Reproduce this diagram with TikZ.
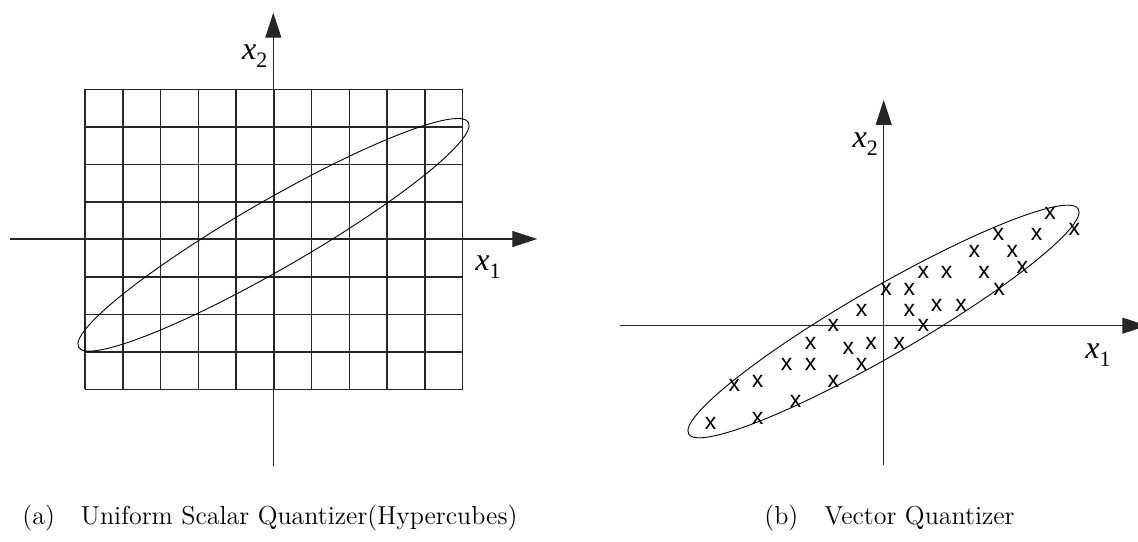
\documentclass[tikz,border=0pt]{standalone}
\usepackage{fontspec}
\newfontfamily\labfont{Liberation Serif}
\newfontfamily\crossfont{Liberation Sans}
\usetikzlibrary{arrows.meta}

\newcommand{\axlabel}[1]{{\labfont\fontsize{16}{18}\selectfont\itshape x}\raisebox{-4pt}{\labfont\fontsize{11}{12}\selectfont #1}}

\begin{document}
\begin{tikzpicture}[x=0.5pt, y=0.5pt,
  axis/.style={line width=0.55pt, draw=black!85, -{Triangle[length=12.5pt,width=8pt]}},
  gridline/.style={line width=0.75pt, draw=black!85},
  region/.style={line width=0.45pt},
  qpoint/.style={font=\crossfont\fontsize{11.5}{12}\selectfont, inner sep=0pt},
  axislabel/.style={anchor=base west, inner sep=0pt},
  subcap/.style={anchor=base west, inner sep=0pt, font=\fontsize{13}{15}\selectfont}
]
  \useasboundingbox (0,0) rectangle (1138,541);

  % (a) scalar quantizer
  \foreach \i in {0,...,10}
    \draw[gridline] (85+\i*37.77,151.7) -- (85+\i*37.77,451.7);
  \foreach \j in {0,...,8}
    \draw[gridline] (85,151.7+\j*37.5) -- (462.7,151.7+\j*37.5);

  \coordinate (ha1) at (10,302);
  \coordinate (hb1) at (537.3,302);
  \coordinate (va1) at (273.3,75.3);
  \coordinate (vb1) at (273.3,528.3);
  \draw[axis] (ha1) -- (hb1);
  \draw[axis] (va1) -- (vb1);
  \draw[region, rotate around={30:(273.5,306.2)}] (273.5,306.2) ellipse [x radius=225, y radius=34];

  \node[axislabel] (lx2a) at (241.7,481.7) {\axlabel{2}};
  \node[axislabel] (lx1a) at (475,270.3) {\axlabel{1}};

  % (b) vector quantizer
  \coordinate (ha2) at (620,215.3);
  \coordinate (hb2) at (1147.3,215.3);
  \coordinate (va2) at (883.7,76);
  \coordinate (vb2) at (883.7,441);
  \draw[axis] (ha2) -- (hb2);
  \draw[axis] (va2) -- (vb2);
  \draw[region, rotate around={30:(883.5,219.5)}] (883.5,219.5) ellipse [x radius=225, y radius=34];

  \node[axislabel] (lx2b) at (852.3,393.7) {\axlabel{2}};
  \node[axislabel] (lx1b) at (1085,182.7) {\axlabel{1}};

  \foreach \cx/\cy [count=\i] in {
      1050/327.7, 1074.3/312, 998.3/306.7, 1036.7/306.7,
      974.3/290, 1012.3/290, 1022.3/273.3,
      923.3/268.7, 946.7/268.7, 984/268.7,
      886/252, 909.3/252, 999/252,
      861.7/230.3, 909.3/230.3, 936.7/235.3, 961/235.3,
      833.3/215.3, 923.3/215.3,
      810.7/197.7, 848.3/192.7, 871/197.7, 899.3/197.7,
      786.7/177, 810.7/177, 861.7/177,
      734.3/156, 757.7/160, 833.3/160,
      795.7/140, 710.7/117.7, 757.7/122.7}
    \node[qpoint] (q\i) at (\cx,\cy) {x};

  % captions
  \node[subcap] (capa) at (22,16.5) {(a)\quad Uniform Scalar Quantizer(Hypercubes)};
  \node[subcap] (capb) at (764,16.5) {(b)\quad Vector Quantizer};
\end{tikzpicture}
\end{document}
